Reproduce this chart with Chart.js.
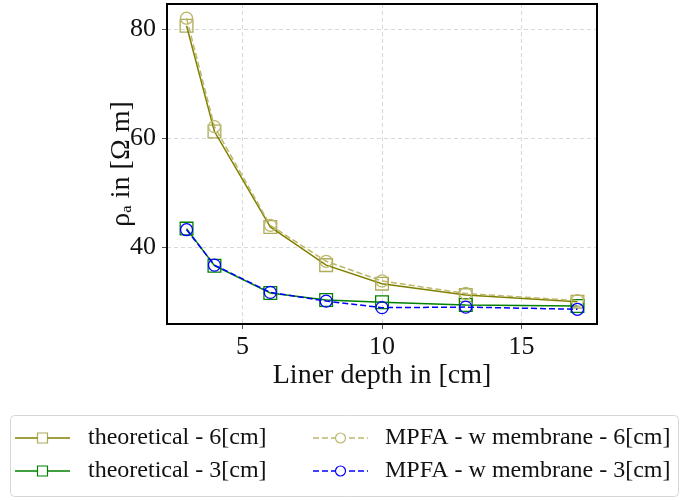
<!DOCTYPE html>
<html>
<head>
<meta charset="utf-8">
<script src="https://cdn.jsdelivr.net/npm/chart.js@4.4.1/dist/chart.umd.min.js"></script>
<style>
  body { margin: 0; background: #fff; }
</style>
</head>
<body>
<canvas id="chart" width="680" height="500"></canvas>
<script>
// liner depth in cm
const depth = [3, 4, 6, 8, 10, 13, 17]
const theo6 = [80.6, 61.2, 43.7, 36.7, 33.3, 31.2, 30.0]
const mpfa6 = [82.0, 62.1, 44.0, 37.4, 33.8, 31.5, 30.2]
const theo3 = [43.4, 36.6, 31.6, 30.3, 29.9, 29.4, 29.2]
const mpfa3 = [43.2, 36.7, 31.7, 30.1, 28.9, 29.0, 28.6]
const xTicks = [5, 10, 15]
const yTicks = [40, 60, 80]

const labels = ["theoretical - 6[cm]", "theoretical - 3[cm]", "MPFA - w membrane - 6[cm]", "MPFA - w membrane - 3[cm]"]

const serif = "'Liberation Serif', 'DejaVu Serif', serif"

const pts = (ys) => depth.map((x, i) => ({x: x, y: ys[i]}))

const makeSet = (label, ys, line, marker, style, radius, dash, order) => ({
  label: label,
  data: pts(ys),
  borderColor: line,
  borderWidth: 1.5,
  borderDash: dash,
  pointStyle: style,
  pointRadius: radius,
  pointBorderColor: marker,
  pointBackgroundColor: "rgba(0,0,0,0)",
  pointBorderWidth: 1.3,
  tension: 0,
  fill: false,
  order: order,
  // legend helpers
  _marker: marker,
})

const datasets = [
  makeSet(labels[0], theo6, "#808000", "rgba(128,128,0,0.65)", "rect", 9, [], 3),
  makeSet(labels[1], theo3, "#008000", "#008000", "rect", 9, [], 2),
  makeSet(labels[2], mpfa6, "#bdb76b", "#bdb76b", "circle", 6, [6, 3], 1),
  makeSet(labels[3], mpfa3, "#0000ff", "#0000ff", "circle", 6, [6, 3], 0),
]

// frame round the plot + boxed legend underneath
const framePlugin = {
  id: "frame",
  afterDraw(chart) {
    const ctx = chart.ctx
    const a = chart.chartArea
    ctx.save()
    ctx.strokeStyle = "#000"
    ctx.lineWidth = 2
    ctx.strokeRect(a.left, a.top, a.right - a.left, a.bottom - a.top)

    // legend box
    const bx = 10.5, by = 415.5, bw = 668, bh = 81, r = 4
    ctx.lineWidth = 1
    ctx.strokeStyle = "#d6d6d6"
    ctx.beginPath()
    ctx.moveTo(bx + r, by)
    ctx.arcTo(bx + bw, by, bx + bw, by + bh, r)
    ctx.arcTo(bx + bw, by + bh, bx, by + bh, r)
    ctx.arcTo(bx, by + bh, bx, by, r)
    ctx.arcTo(bx, by, bx + bw, by, r)
    ctx.closePath()
    ctx.stroke()

    const cols = [{x0: 15, x1: 70, tx: 88}, {x0: 313, x1: 368, tx: 385}]
    const rows = [438, 471]
    const place = [[0, 0], [0, 1], [1, 0], [1, 1]]
    chart.data.datasets.forEach((ds, i) => {
      const c = cols[place[i][0]]
      const y = rows[place[i][1]]
      ctx.save()
      ctx.strokeStyle = ds.borderColor
      ctx.lineWidth = 1.5
      ctx.setLineDash(ds.borderDash)
      ctx.beginPath()
      ctx.moveTo(c.x0, y)
      ctx.lineTo(c.x1, y)
      ctx.stroke()
      ctx.setLineDash([])
      const mx = (c.x0 + c.x1) / 2
      ctx.fillStyle = "#fff"
      ctx.strokeStyle = ds._marker
      ctx.lineWidth = 1.2
      ctx.beginPath()
      if (ds.pointStyle === "rect") {
        ctx.rect(mx - 5, y - 5, 10, 10)
      } else {
        ctx.arc(mx, y, 5, 0, Math.PI * 2)
      }
      ctx.fill()
      ctx.stroke()
      ctx.restore()
      ctx.fillStyle = "#111"
      ctx.font = "24px " + serif
      ctx.textBaseline = "middle"
      ctx.fillText(ds.label, c.tx, y)
    })
    ctx.restore()
  }
}

const grid = {
  color: "#d9d9d9",
  lineWidth: 1,
  tickColor: "#555",
  tickLength: 5,
  tickWidth: 1,
}

new Chart(document.getElementById("chart").getContext("2d"), {
  type: "line",
  data: { datasets: datasets },
  options: {
    responsive: false,
    animation: false,
    layout: { autoPadding: false, padding: { left: 101, top: 4, right: 83, bottom: 106 } },
    plugins: {
      legend: { display: false },
      tooltip: { enabled: false },
    },
    scales: {
      x: {
        type: "linear",
        min: 2.3,
        max: 17.7,
        afterBuildTicks: (s) => { s.ticks = xTicks.map(v => ({value: v})) },
        afterFit: (s) => { s.height = 70; s.paddingLeft = 0; s.paddingRight = 0 },
        grid: grid,
        border: { display: false, dash: [4, 3] },
        ticks: { font: { family: serif, size: 26 }, color: "#111", padding: 3, maxRotation: 0 },
        title: { display: true, text: "Liner depth in [cm]", font: { family: serif, size: 28 }, color: "#111", padding: { top: 0, bottom: 2 } },
      },
      y: {
        type: "linear",
        min: 25.9,
        max: 84.6,
        afterBuildTicks: (s) => { s.ticks = yTicks.map(v => ({value: v})) },
        afterFit: (s) => { s.width = 66; s.paddingTop = 0; s.paddingBottom = 0 },
        grid: grid,
        border: { display: false, dash: [4, 3] },
        ticks: { font: { family: serif, size: 26 }, color: "#111", padding: 6 },
        title: { display: true, text: "ρₐ in [Ω m]", font: { family: serif, size: 28 }, color: "#111", padding: { top: 4, bottom: 0 } },
      },
    },
  },
  plugins: [framePlugin],
})
</script>
</body>
</html>
